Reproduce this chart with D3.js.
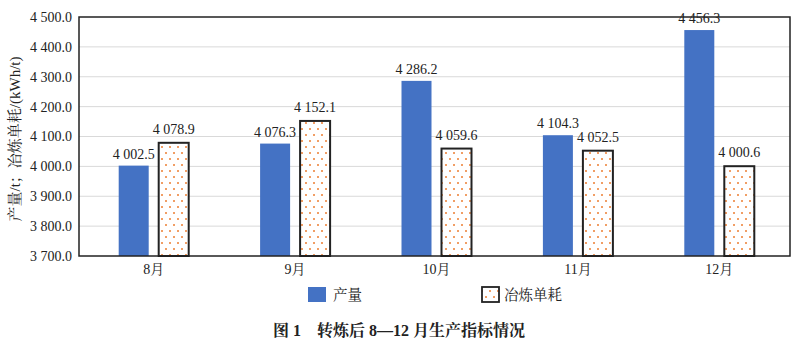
<!DOCTYPE html>
<html>
<head>
<meta charset="utf-8">
<script src="https://cdn.jsdelivr.net/npm/d3@7"></script>
<style>
  body { margin: 0; background: #fff; }
  svg text { font-family: "Liberation Serif", "DejaVu Serif", "Noto Serif CJK SC", "Noto Sans CJK SC", serif; fill: #222; }
</style>
</head>
<body>
<div id="chart"></div>
<script>
// data
const months = ["8月", "9月", "10月", "11月", "12月"];
const output = [4002.5, 4076.3, 4286.2, 4104.3, 4456.3];       // 产量 /t
const unitUse = [4078.9, 4152.1, 4059.6, 4052.5, 4000.6];      // 冶炼单耗 /(kWh/t)
const yTicks = [3700, 3800, 3900, 4000, 4100, 4200, 4300, 4400, 4500];
const seriesNames = ["产量", "冶炼单耗"];

let conf = { width: 800, height: 351, left: 79, right: 790, top: 17, bottom: 256 };

// "4 002.5" style numbers
const fmt = v => d3.format(",.1f")(v).replace(/,/g, " ");

const svg = d3.select("#chart").append("svg")
    .attr("width", conf.width)
    .attr("height", conf.height);

const defs = svg.append("defs");
const pat = defs.append("pattern")
    .attr("id", "dots")
    .attr("patternUnits", "userSpaceOnUse")
    .attr("width", 8).attr("height", 12);
pat.append("rect").attr("width", 8).attr("height", 12).attr("fill", "#fff");
pat.append("circle").attr("cx", 2).attr("cy", 3).attr("r", 1).attr("fill", "#ED7D31");
pat.append("circle").attr("cx", 6).attr("cy", 9).attr("r", 1).attr("fill", "#ED7D31");

let x = d3.scaleBand()
    .domain(months)
    .range([conf.left + 4, conf.right]);
let y = d3.scaleLinear()
    .domain([3700, 4500])
    .range([conf.bottom, conf.top]);

const barW = 30, gap = 10;

// grid
svg.append("g")
    .selectAll("line")
    .data(yTicks.slice(1, -1))
    .join("line")
    .attr("x1", conf.left).attr("x2", conf.right)
    .attr("y1", d => y(d)).attr("y2", d => y(d))
    .attr("stroke", "#d9d9d9").attr("stroke-width", 1);

// y axis labels
svg.append("g")
    .attr("transform", `translate(${conf.left},0)`)
    .call(d3.axisLeft(y).tickValues(yTicks).tickFormat(fmt).tickSize(0).tickPadding(7))
    .call(g => g.select(".domain").remove())
    .selectAll("text")
    .style("font-size", "14px")
    .attr("fill", "#222");

// output bars
svg.append("g").selectAll("rect")
    .data(output)
    .join("rect")
    .attr("x", (d, i) => x(months[i]) + x.bandwidth() / 2 - gap / 2 - barW)
    .attr("y", d => y(d))
    .attr("width", barW)
    .attr("height", d => y(3700) - y(d))
    .attr("fill", "#4472C4");

// unit consumption bars
svg.append("g").selectAll("rect")
    .data(unitUse)
    .join("rect")
    .attr("x", (d, i) => x(months[i]) + x.bandwidth() / 2 + gap / 2)
    .attr("y", d => y(d))
    .attr("width", barW)
    .attr("height", d => y(3700) - y(d))
    .attr("fill", "url(#dots)")
    .attr("stroke", "#222").attr("stroke-width", 2);

// value labels
svg.append("g").selectAll("text")
    .data(output)
    .join("text")
    .attr("x", (d, i) => x(months[i]) + x.bandwidth() / 2 - gap / 2 - barW / 2)
    .attr("y", d => y(d) - 7)
    .attr("text-anchor", "middle")
    .style("font-size", "14px")
    .text(fmt);
svg.append("g").selectAll("text")
    .data(unitUse)
    .join("text")
    .attr("x", (d, i) => x(months[i]) + x.bandwidth() / 2 + gap / 2 + barW / 2)
    .attr("y", d => y(d) - 9)
    .attr("text-anchor", "middle")
    .style("font-size", "14px")
    .text(fmt);

// plot frame
svg.append("rect")
    .attr("x", conf.left).attr("y", conf.top)
    .attr("width", conf.right - conf.left)
    .attr("height", conf.bottom - conf.top)
    .attr("fill", "none")
    .attr("stroke", "#222").attr("stroke-width", 1.5);

// x axis labels
svg.append("g")
    .attr("transform", `translate(0,${conf.bottom})`)
    .call(d3.axisBottom(x).tickSize(0).tickPadding(8))
    .call(g => g.select(".domain").remove())
    .selectAll("text")
    .style("font-size", "14px")
    .attr("fill", "#222");

// y title
svg.append("text")
    .attr("transform", `translate(20,139) rotate(-90)`)
    .attr("text-anchor", "middle")
    .style("font-size", "15px")
    .text("产量/t；冶炼单耗/(kWh/t)");

// legend
const legend = svg.append("g");
legend.append("rect")
    .attr("x", 308).attr("y", 287).attr("width", 18).attr("height", 15)
    .attr("fill", "#4472C4");
legend.append("text")
    .attr("x", 333).attr("y", 300)
    .style("font-size", "14.5px")
    .text(seriesNames[0]);
legend.append("rect")
    .attr("x", 482).attr("y", 287).attr("width", 17).attr("height", 15)
    .attr("fill", "url(#dots)")
    .attr("stroke", "#222").attr("stroke-width", 1.8);
legend.append("text")
    .attr("x", 504).attr("y", 300)
    .style("font-size", "14.5px")
    .text(seriesNames[1]);

// caption
svg.append("text")
    .attr("x", 399).attr("y", 336)
    .attr("text-anchor", "middle")
    .style("font-size", "16px")
    .style("font-weight", "bold")
    .attr("xml:space", "preserve")
    .text("图 1    转炼后 8—12 月生产指标情况");
</script>
</body>
</html>
